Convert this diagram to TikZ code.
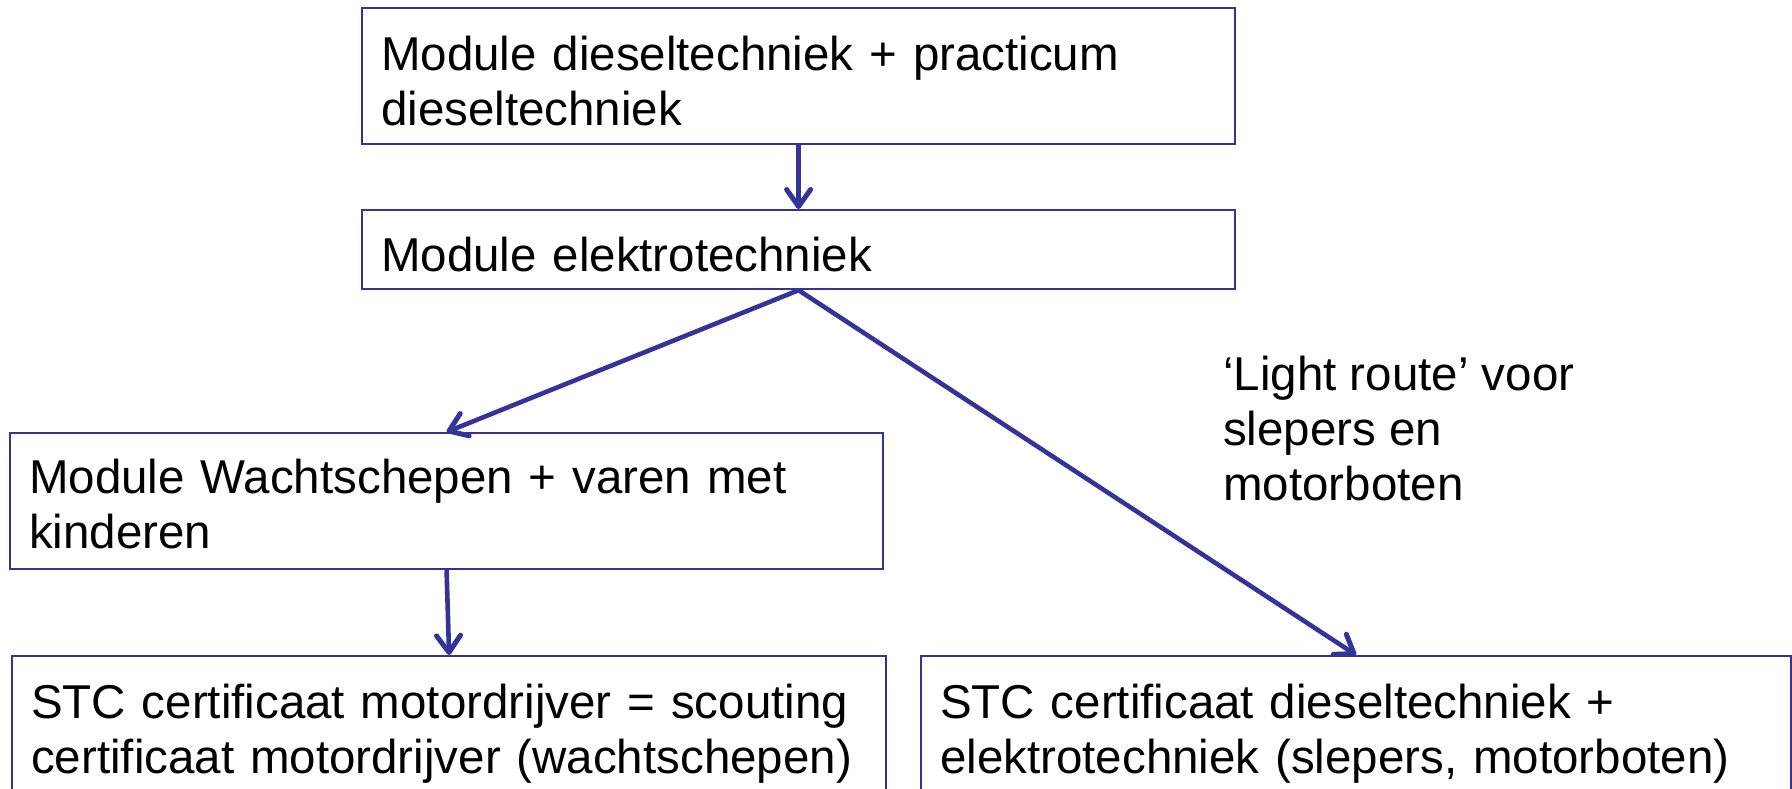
\documentclass[tikz,border=0pt]{standalone}
\usepackage{fontspec}
\setmainfont{Liberation Sans}
\usetikzlibrary{arrows.meta}
\definecolor{navy}{RGB}{51,51,153}
\newcommand\toppad{\rule{0pt}{45pt}}
\begin{document}
\begin{tikzpicture}[x=1pt,y=-1pt,
  box/.style={draw=navy, line width=2.2pt, anchor=north west, inner xsep=19pt, inner ysep=0pt,
    align=left, font=\fontsize{47.5}{55}\selectfont, text=black},
  lbl/.style={anchor=north west, inner sep=0pt, align=left, font=\fontsize{47.5}{55}\selectfont, text=black},
  conn/.style={draw=navy, line width=4.6pt, -{Straight Barb[length=17pt,width=24pt,line width=5pt,round]}}
]
\useasboundingbox (0,0) rectangle (1792,788);
\clip (0,0) rectangle (1792,788);
\node[box, text width=835pt, minimum height=136pt] (b1) at (361,7)
  {\toppad Module dieseltechniek + practicum\\dieseltechniek};
\node[box, text width=835pt, minimum height=79pt] (b2) at (361,209)
  {\toppad Module elektrotechniek};
\node[box, text width=835pt, minimum height=136pt] (b3) at (9,432)
  {\rule{0pt}{40pt}Module Wachtschepen + varen met\\kinderen};
\node[box, text width=836pt, minimum height=145pt] (b4) at (11,655)
  {\toppad STC certificaat motordrijver = scouting\\certificaat motordrijver (wachtschepen)};
\node[box, text width=832pt, minimum height=145pt] (b5) at (920,655)
  {\toppad STC certificaat dieseltechniek +\\elektrotechniek (slepers, motorboten)};
\node[lbl] (lr) at (1223,356) {‘Light route’ voor\\slepers en\\motorboten};
\draw[conn] (b1.south) -- (b2.north);
\draw[conn] (b2.south) -- (b3.north);
\draw[conn] (b2.south) -- (b5.north);
\draw[conn] (b3.south) -- (b4.north);
\end{tikzpicture}
\end{document}
